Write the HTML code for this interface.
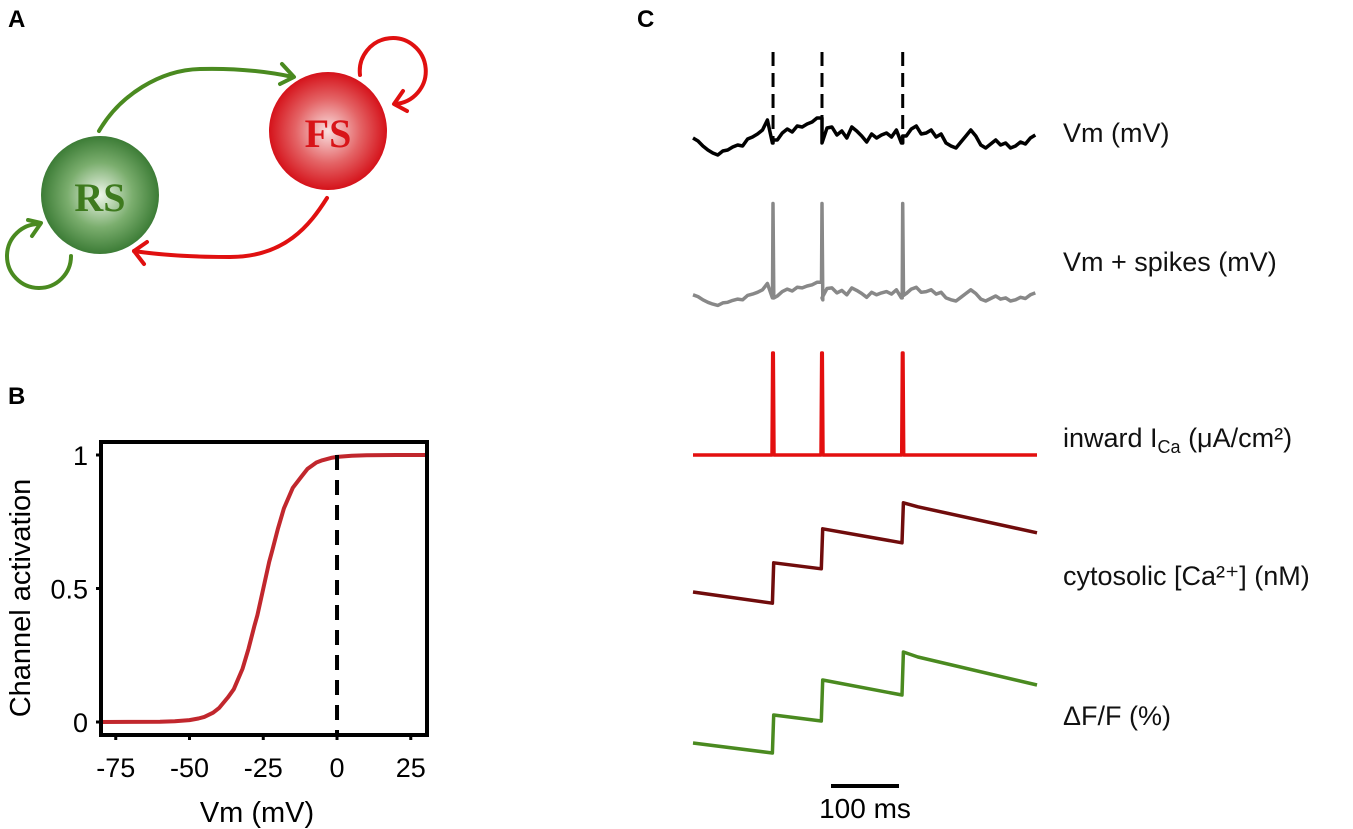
<!DOCTYPE html>
<html><head><meta charset="utf-8">
<style>
html,body{margin:0;padding:0;background:#fff;}
svg{display:block;font-family:"Liberation Sans",sans-serif;}
</style></head>
<body>
<svg id="fig" width="1353" height="829" viewBox="0 0 1353 829">
<defs>
<radialGradient id="gG" cx="0.5" cy="0.5" r="0.5">
<stop offset="0" stop-color="#eef6ea"/><stop offset="0.55" stop-color="#7bae6e"/><stop offset="1" stop-color="#3c7c36"/>
</radialGradient>
<radialGradient id="gR" cx="0.5" cy="0.5" r="0.5">
<stop offset="0" stop-color="#f9e0e0"/><stop offset="0.55" stop-color="#e46466"/><stop offset="1" stop-color="#d5121a"/>
</radialGradient>
</defs>

<!-- Panel A -->
<text x="8" y="27" font-size="24" font-weight="bold">A</text>
<g fill="none" stroke-width="4" stroke-linecap="round" stroke-linejoin="round">
<path d="M99,131 C120,95 160,70 200,69 C240,68 270,72 293,77" stroke="#4a8a20"/>
<path d="M282,64 L294,77 L280,84" stroke="#4a8a20"/>
<path d="M327,198 C310,225 285,257 230,257 C190,257 160,255 134,251" stroke="#e01010"/>
<path d="M147,242 L134,251 L144,264" stroke="#e01010"/>
<path d="M360,75 A33,33 0 1 1 395,104" stroke="#e01010"/>
<path d="M403,91 L394,104 L407,111" stroke="#e01010"/>
<path d="M71,256 A32,32 0 1 1 40,224" stroke="#4a8a20"/>
<path d="M28,220 L41,223 L32,236" stroke="#4a8a20"/>
</g>
<circle cx="100" cy="195" r="59" fill="url(#gG)"/>
<text x="100" y="211" text-anchor="middle" font-family="Liberation Serif,serif" font-weight="bold" font-size="40" fill="#3e7a1e">RS</text>
<circle cx="328" cy="131" r="59" fill="url(#gR)"/>
<text x="328" y="147" text-anchor="middle" font-family="Liberation Serif,serif" font-weight="bold" font-size="40" fill="#d81418">FS</text>

<!-- Panel B -->
<text x="8" y="404" font-size="24" font-weight="bold">B</text>
<g id="panelB"></g>

<!-- Panel C -->
<text x="637" y="27" font-size="24" font-weight="bold">C</text>
<g id="panelC"></g>
<g font-size="27" fill="#111">
<text x="1063" y="142">Vm (mV)</text>
<text x="1063" y="271">Vm + spikes (mV)</text>
<text x="1063" y="447">inward I<tspan font-size="18" dy="6">Ca</tspan><tspan dy="-6"> (μA/cm²)</tspan></text>
<text x="1063" y="585">cytosolic [Ca²⁺] (nM)</text>
<text x="1063" y="725">ΔF/F (%)</text>
</g>
<line x1="831" y1="786" x2="899" y2="786" stroke="#000" stroke-width="4"/>
<text x="865" y="818" text-anchor="middle" font-size="28">100 ms</text>
</svg>

<script>
// ---- Panel B data ----
const bVm = [-80,-60,-55,-50,-47,-45,-42,-40,-37,-35,-32,-30,-28,-27,-25,-23,-22,-20,-18,-15,-12,-10,-7,-5,-2,0,5,10,20,30.5];
const bAct = [0,0.001,0.003,0.007,0.013,0.019,0.035,0.052,0.092,0.123,0.2,0.274,0.36,0.40,0.5,0.6,0.64,0.725,0.8,0.877,0.92,0.948,0.972,0.98,0.989,0.993,0.997,0.999,1,1];
const bXTicks = [-75,-50,-25,0,25];
const bXTickLabels = ["-75","-50","-25","0","25"];
const bYTicks = [0,0.5,1];
const bYTickLabels = ["0","0.5","1"];

// ---- Panel C data ----
const spikeTimes = [121,195,317];
const vmDt = 7.5;
const vm = [-59.5,-60.25,-61.5,-62.5,-63.25,-63.75,-62.75,-62.5,-61.75,-61.25,-61.5,-59.75,-59.25,-58.5,-57.5,-55,
-60.75,-60,-58.25,-57.25,-58,-56.5,-56.75,-56,-55.5,-54.5,
-60.75,-57,-56.75,-58.75,-57.75,-59.5,-56.75,-57.75,-59,-60.5,-58.5,-59.5,-58.75,-58.25,-59.25,-57.5,
-60.75,-59,-57.25,-56.5,-58.5,-58.25,-57.5,-59.25,-58.5,-60.75,-61.5,-62,-60.5,-59,-57.5,-59,-61.25,-62,-61,-60,-61.25,-60.75,-62,-61.5,-60.5,-61,-59.5,-58.75];
const spikePeakMv = [-23,-23,-23];
const icaPeak = [2,2,2];
const caT = [0,120,122,194,196,316,318,340,520];
const caV = [45,17,118,103,203,168,268,258,193];
const dffT = [0,120,122,194,196,316,318,340,520];
const dffV = [4.25,1.75,11.25,9.75,20,16.25,27,25.75,18.75];

const NS = "http://www.w3.org/2000/svg";
function mk(tag, attrs, parent){const e=document.createElementNS(NS,tag);for(const k in attrs)e.setAttribute(k,attrs[k]);parent.appendChild(e);return e;}

// ---- Panel B drawing ----
(function(){
const g=document.getElementById('panelB');
const L=101,R=427,T=442,B=735;
const xS=v=>L+(v-(-80))/(30.5-(-80))*(R-L);
const yS=a=>722-a*(722-455);
let d=bVm.map((v,i)=>(i?'L':'M')+xS(v).toFixed(1)+','+yS(bAct[i]).toFixed(1)).join(' ');
const curve=mk('path',{d:d,fill:'none',stroke:'#c1272d','stroke-width':4,'stroke-linejoin':'round'},g);


const dl=mk('line',{x1:xS(0),x2:xS(0),y1:455,y2:B,stroke:'#000','stroke-width':4,'stroke-dasharray':'15,10'},g);


const box=mk('rect',{x:L,y:T,width:R-L,height:B-T,fill:'none',stroke:'#000','stroke-width':4},g);


bXTicks.forEach((v,i)=>{
  const tk=mk('line',{x1:xS(v),x2:xS(v),y1:B,y2:B+5,stroke:'#000','stroke-width':3},g);
  
  
  const t=mk('text',{x:xS(v),y:777,'text-anchor':'middle','font-size':27},g);
  t.textContent=bXTickLabels[i];
  
  
});
bYTicks.forEach((v,i)=>{
  const tk=mk('line',{x1:L-5,x2:L,y1:yS(v),y2:yS(v),stroke:'#000','stroke-width':3},g);
  
  
  const t=mk('text',{x:88,y:yS(v)+10,'text-anchor':'end','font-size':27},g);
  t.textContent=bYTickLabels[i];
  
  
});
const xt=mk('text',{x:257,y:822,'text-anchor':'middle','font-size':29},g);
xt.textContent='Vm (mV)';


const yt=mk('text',{x:0,y:0,'text-anchor':'middle','font-size':29,transform:'translate(30,598) rotate(-90)'},g);
yt.textContent='Channel activation';


})();

// ---- Panel C drawing ----
(function(){
const g=document.getElementById('panelC');
const tS=t=>693+t*(1037-693)/520;
const blackY=v=>140-(v+60)*4;
const grayY=v=>296-(v+60)*2.5;
const icaY=v=>455-v*51;
const caY=v=>610-v*0.4;
const dffY=v=>760-v*4;
function pathFrom(pts){return pts.map((p,i)=>(i?'L':'M')+p[0].toFixed(1)+','+p[1].toFixed(1)).join(' ');}
let bp=[], gp=[];
for(let i=0;i<vm.length;i++){
  const t=i*vmDt;
  bp.push([tS(t),blackY(vm[i])]); gp.push([tS(t),grayY(vm[i])]);
  if(i<vm.length-1){
    spikeTimes.forEach((s,k)=>{
      if(s>t && s<=t+vmDt){
        bp.push([tS(s),blackY(vm[i])]); bp.push([tS(s),blackY(vm[i+1])]);
        gp.push([tS(s)-0.5,grayY(vm[i])]); gp.push([tS(s),grayY(spikePeakMv[k])]);
        gp.push([tS(s)+0.8,grayY(vm[i+1]-0.8)]);
      }
    });
  }
}
const bl=mk('path',{d:pathFrom(bp),fill:'none',stroke:'#000','stroke-width':3.5,'stroke-linejoin':'round'},g);


const gl=mk('path',{d:pathFrom(gp),fill:'none',stroke:'#888','stroke-width':3.5,'stroke-linejoin':'round'},g);


spikeTimes.forEach(s=>{
  const i=Math.floor(s/vmDt);
  const dl=mk('line',{x1:tS(s),x2:tS(s),y1:52,y2:blackY(vm[i]),stroke:'#000','stroke-width':3,'stroke-dasharray':'14,7'},g);
  
  
});
let ip=[[tS(0),icaY(0)]];
spikeTimes.forEach((s,k)=>{ip.push([tS(s)-1,icaY(0)]);ip.push([tS(s)-0.3,icaY(icaPeak[k])]);ip.push([tS(s)+0.3,icaY(icaPeak[k])]);ip.push([tS(s)+1,icaY(0)]);});
ip.push([tS(520),icaY(0)]);
const il=mk('path',{d:pathFrom(ip),fill:'none',stroke:'#e30f0f','stroke-width':3.5,'stroke-linejoin':'round'},g);


const cl=mk('path',{d:pathFrom(caT.map((t,i)=>[tS(t),caY(caV[i])])),fill:'none',stroke:'#700c0c','stroke-width':3.5,'stroke-linejoin':'round'},g);


const fl=mk('path',{d:pathFrom(dffT.map((t,i)=>[tS(t),dffY(dffV[i])])),fill:'none',stroke:'#4a8a20','stroke-width':3.5,'stroke-linejoin':'round'},g);


})();
</script>
</body></html>
